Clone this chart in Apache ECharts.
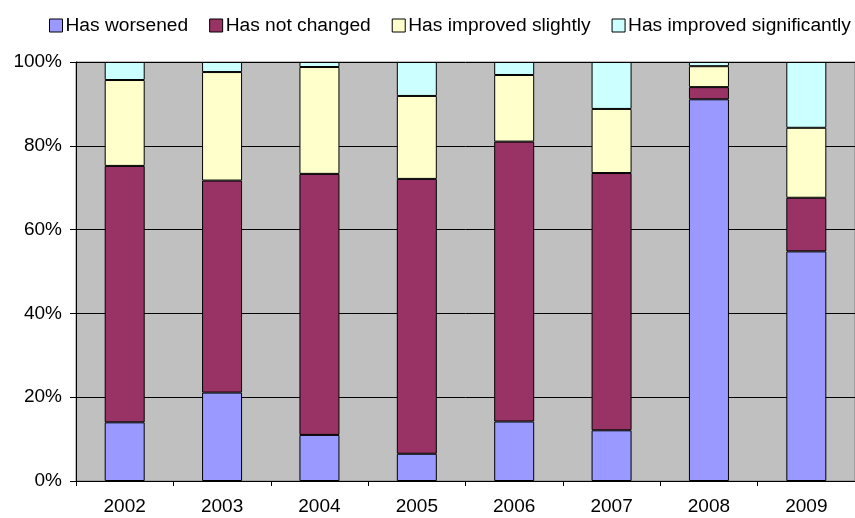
<!DOCTYPE html>
<html>
<head>
<meta charset="utf-8">
<script src="https://cdn.jsdelivr.net/npm/echarts@6/dist/echarts.min.js"></script>
<style>html,body{margin:0;padding:0;background:#fff;overflow:hidden}#c{width:855px;height:518px}</style>
</head>
<body>
<div id="c"></div>
<script>
var categories = ['2002','2003','2004','2005','2006','2007','2008','2009'];
var seriesNames = ['Has worsened','Has not changed','Has improved slightly','Has improved significantly'];
var worsened = [14.0, 21.1, 11.0, 6.5, 14.2, 12.1, 91.1, 54.8];
var notChanged = [61.2, 50.6, 62.3, 65.6, 66.8, 61.4, 2.9, 12.8];
var improvedSlightly = [20.5, 25.9, 25.5, 19.8, 15.9, 15.3, 5.0, 16.7];
var improvedSignificantly = [4.3, 2.4, 1.2, 8.1, 3.1, 11.2, 1.0, 15.7];
var yTicks = [0, 20, 40, 60, 80, 100];

var colors = ['#9999FF','#993366','#FFFFCC','#CCFFFF'];
var values = [worsened, notChanged, improvedSlightly, improvedSignificantly];
var font = 'Liberation Sans, Arial, sans-serif';

var chart = echarts.init(document.getElementById('c'), null, {renderer:'canvas'});
chart.setOption({
  animation: false,
  legend: {
    left: 44, top: 11, width: 1200, orient: 'horizontal',
    itemWidth: 13, itemHeight: 13, itemGap: 21,
    icon: 'rect',
    textStyle: {fontFamily: font, fontSize: 19.2, color: '#000', padding: [0, 0, 0, -2]},
    data: seriesNames.map(function(n,i){return {name:n, itemStyle:{color:colors[i], borderColor:'#000', borderWidth:1}};})
  },
  grid: {left: 76, top: 62, width: 790, bottom: 37, show: true, backgroundColor: '#C0C0C0', borderColor: '#808080', borderWidth: 1},
  xAxis: {
    type: 'category', data: categories,
    axisLine: {lineStyle: {color: '#000', width: 1}},
    axisTick: {show: true, length: 5, lineStyle: {color: '#000'}},
    axisLabel: {fontFamily: font, fontSize: 19, color: '#000', margin: 16}
  },
  yAxis: {
    type: 'value', min: yTicks[0], max: yTicks[yTicks.length-1], interval: 20,
    axisLine: {show: true, lineStyle: {color: '#000', width: 1}},
    axisTick: {show: true, length: 6, lineStyle: {color: '#000'}},
    splitLine: {show: true, lineStyle: {color: '#000', width: 1}},
    axisLabel: {fontFamily: font, fontSize: 19, color: '#000', margin: 14, formatter: '{value}%'}
  },
  series: seriesNames.map(function(n,i){
    return {name: n, type: 'bar', stack: 'all', barWidth: 40, data: values[i],
      itemStyle: {color: colors[i], borderColor: '#000', borderWidth: 1}};
  })
});
</script>
</body>
</html>
